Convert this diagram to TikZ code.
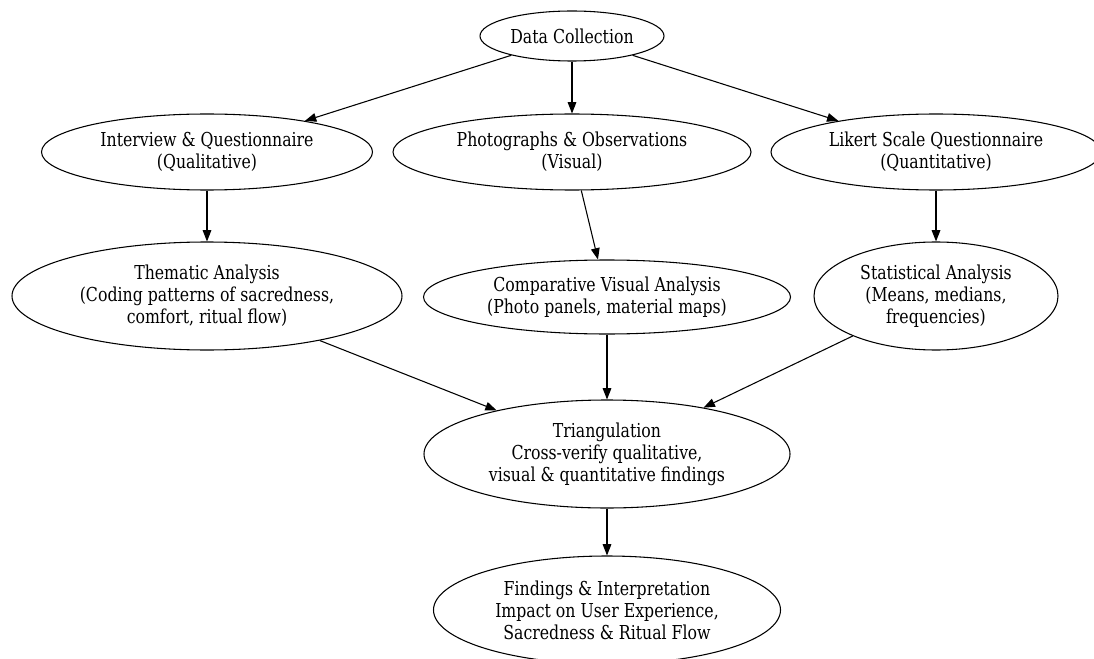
\documentclass[tikz,border=0pt]{standalone}
\usepackage{fontspec}
\setmainfont{DejaVu Serif}[FakeStretch=0.82]
\usetikzlibrary{shapes.geometric,arrows.meta}
\begin{document}
\begin{tikzpicture}[x=0.75pt,y=-0.75pt,
  nd/.style={ellipse,draw,line width=0.8pt,inner sep=0pt,align=center,
    font=\fontsize{14.4pt}{16.5pt}\selectfont},
  ed/.style={line width=0.8pt,-{Triangle[length=8.5pt,width=6.5pt]}}]
\useasboundingbox[fill=white] (0,0) rectangle (1094,659);
\node[nd,minimum width=184*0.75pt,minimum height=50*0.75pt] (dc) at (572,36) {Data Collection};
\node[nd,minimum width=331*0.75pt,minimum height=76*0.75pt] (iq) at (207,152) {Interview \& Questionnaire\\(Qualitative)};
\node[nd,minimum width=358*0.75pt,minimum height=76*0.75pt] (po) at (572,152) {Photographs \& Observations\\(Visual)};
\node[nd,minimum width=330*0.75pt,minimum height=76*0.75pt] (lk) at (936,152) {Likert Scale Questionnaire\\(Quantitative)};
\node[nd,minimum width=390*0.75pt,minimum height=108*0.75pt] (ta) at (207,296) {Thematic Analysis\\(Coding patterns of sacredness,\\comfort, ritual flow)};
\node[nd,minimum width=367*0.75pt,minimum height=74*0.75pt] (cv) at (607,297) {Comparative Visual Analysis\\(Photo panels, material maps)};
\node[nd,minimum width=244*0.75pt,minimum height=108*0.75pt] (sa) at (936,296) {Statistical Analysis\\(Means, medians,\\frequencies)};
\node[nd,minimum width=366*0.75pt,minimum height=108*0.75pt] (tr) at (607,454) {Triangulation\\Cross-verify qualitative,\\visual \& quantitative findings};
\node[nd,minimum width=347*0.75pt,minimum height=108*0.75pt] (fi) at (607,610) {Findings \& Interpretation\\Impact on User Experience,\\Sacredness \& Ritual Flow};
\draw[ed] (dc) -- (iq);
\draw[ed] (dc) -- (po);
\draw[ed] (dc) -- (lk);
\draw[ed] (iq) -- (ta);
\draw[ed] (po) -- (cv);
\draw[ed] (lk) -- (sa);
\draw[ed] (ta) -- (tr);
\draw[ed] (cv) -- (tr);
\draw[ed] (sa) -- (tr);
\draw[ed] (tr) -- (fi);
\end{tikzpicture}
\end{document}
